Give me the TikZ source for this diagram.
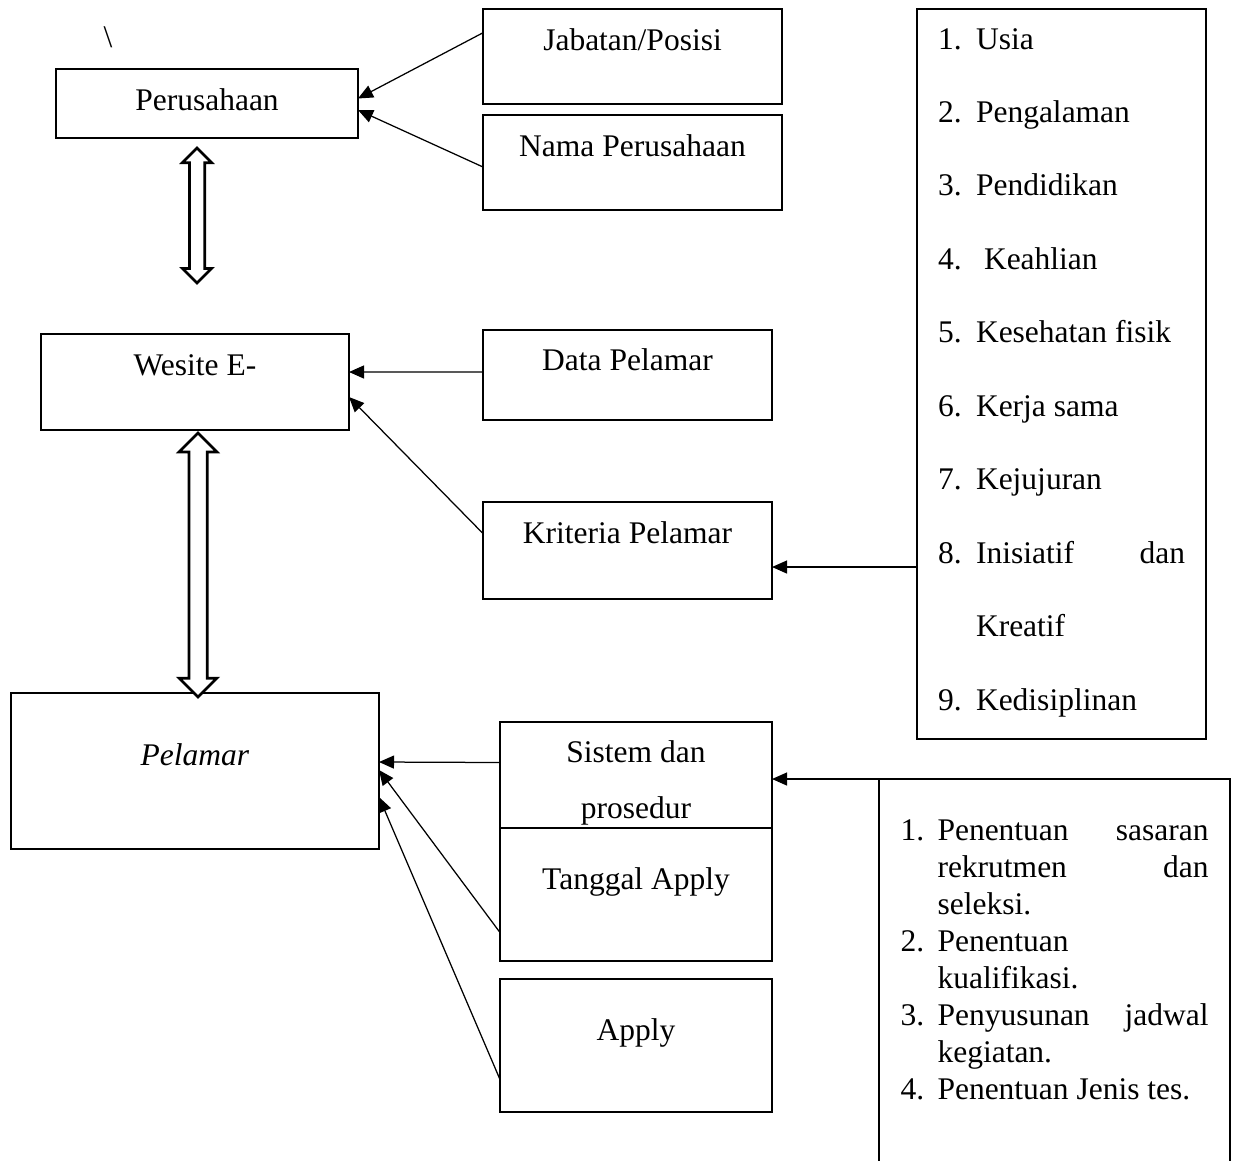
\documentclass[tikz,border=0pt]{standalone}
\usepackage{fontspec}
\setmainfont{Liberation Serif}
\usepackage{tikz}
\usetikzlibrary{arrows.meta, positioning, calc, shapes.arrows}

\begin{document}
\begin{tikzpicture}[
    x=0.4pt, y=-0.4pt,
    font=\fontsize{12.6}{15.2}\selectfont,
    box/.style={rectangle, draw, line width=1.1pt, inner sep=0pt, outer sep=0pt, anchor=north west},
    arrow/.style={-{Triangle[length=6pt, width=5.2pt]}, line width=0.5pt},
    dblarrow/.style={double arrow, draw, line width=1.1pt, fill=white, inner xsep=0pt, rotate=90}
]
\useasboundingbox (0,0) rectangle (1237,1160);
\clip (0,0) rectangle (1237,1160);

\node (bslash) at (108,37) {\textbackslash};

% perusahaan side
\node[box, minimum width=120.8pt, text height=16.4pt, text depth=11.2pt] (perus) at (56,69) {Perusahaan};
\node[box, minimum width=119.6pt, text height=16.4pt, text depth=21.6pt] (jabatan) at (483,9) {Jabatan/Posisi};
\node[box, minimum width=119.6pt, text height=16.4pt, text depth=21.6pt, below=4.4pt of jabatan] (nama) {Nama Perusahaan};

% website side
\node[box, minimum width=123.2pt, text height=16.4pt, text depth=22pt] (wesite) at (41,334) {Wesite E-};
\node[box, minimum width=115.6pt, text height=16pt, text depth=20pt] (data) at (483,330) {Data Pelamar};
\node[box, minimum width=115.6pt, text height=16.4pt, text depth=22.4pt, below=32.8pt of data] (krit) {Kriteria Pelamar};

\node[box, minimum width=115.6pt, text height=16pt, text depth=276pt] (crit) at (917,9) {{\renewcommand{\arraystretch}{1.934}%
  \begin{tabular}[t]{@{}p{15.2pt}@{}p{83.6pt}@{}}
  1. & Usia\\
  2. & Pengalaman\\
  3. & Pendidikan\\
  4. & \hspace*{3.2pt}Keahlian\\
  5. & Kesehatan fisik\\
  6. & Kerja sama\\
  7. & Kejujuran\\
  8. & Inisiatif \hfill dan\\
     & Kreatif\\
  9. & Kedisiplinan
  \end{tabular}}};

% pelamar side
\node[box, minimum width=147.2pt, text height=28.8pt, text depth=33.6pt] (pelamar) at (11,693) {\textit{Pelamar}};
\node[box, minimum width=108.8pt, text height=16pt, text depth=37.2pt] (sistem) at (500,722) {\begin{tabular}[t]{@{}c@{}}Sistem dan\\[7.2pt]prosedur\end{tabular}};
\node[box, fill=white, minimum width=108.8pt, text height=24.4pt, text depth=28.8pt] (tanggal) at (500,828) {Tanggal Apply};
\node[box, minimum width=108.8pt, text height=24.4pt, text depth=28.8pt, below=7.2pt of tanggal] (apply) {Apply};

\node[box, minimum width=140.4pt, text height=24.4pt, text depth=160pt] (tahap) at (879,779) {{\renewcommand{\arraystretch}{0.974}%
  \begin{tabular}[t]{@{}p{14.8pt}@{}p{108.4pt}@{}}
  1. & Penentuan \hfill sasaran\\
     & rekrutmen \hfill dan\\
     & seleksi.\\
  2. & Penentuan\\
     & kualifikasi.\\
  3. & Penyusunan \hfill jadwal\\
     & kegiatan.\\
  4. & Penentuan Jenis tes.
  \end{tabular}}};

% two way links
\node[dblarrow, minimum height=54pt, inner ysep=2.5pt, double arrow head extend=2.8pt] (link1) at (197,215.5) {};
\node[dblarrow, minimum height=105.6pt, inner ysep=3.1pt, double arrow head extend=3.9pt] (link2) at (198,565) {};

% arrows
\draw[arrow] ($(jabatan.north west)!0.25!(jabatan.south west)$) -- ($(perus.east)+(0,-5)$);
\draw[arrow] ($(nama.west)+(0,4.5)$) -- ($(perus.east)+(0,6.5)$);
\draw[arrow] ($(data.west)+(0,-3)$) -- ($(wesite.east)+(0,-10)$);
\draw[arrow] ($(krit.west)+(0,-17)$) -- ($(wesite.east)+(0,15)$);
\coordinate (kr) at ($(krit.east)+(0,16.5)$);
\draw[arrow] (crit.west |- kr) -- (kr);
\draw[arrow] (tahap.north west) -- (sistem.east |- tahap.north west);
\draw[arrow] ($(sistem.west)+(0,-26)$) -- ($(pelamar.east)+(0,-9)$);
\draw[arrow] ($(tanggal.west)+(0,38)$) -- ($(pelamar.east)+(0,-1)$);
\draw[arrow] ($(apply.west)+(0,34)$) -- ($(pelamar.east)+(0,26)$);

\end{tikzpicture}
\end{document}
